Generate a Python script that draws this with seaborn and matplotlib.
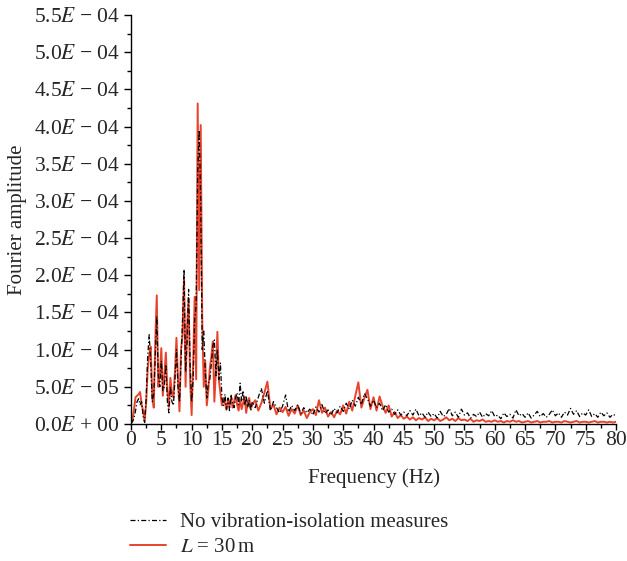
import numpy as np
import pandas as pd
import matplotlib
matplotlib.use("Agg")
import matplotlib.pyplot as plt
from matplotlib.lines import Line2D
from matplotlib.ticker import MultipleLocator, FixedLocator
import seaborn as sns

# ---------------- data (amplitudes in units of 1e-5) ----------------
freq = np.concatenate([np.arange(0, 20.001, 0.25), np.arange(20.5, 80.001, 0.5)])

amp_none_e5 = [
    0.1, 0.3, 0.8, 1.8,
    3.0, 3.4, 2.6, 3.0,
    1.0, 0.2, 3.5, 9.0,
    12.0, 8.5, 3.0, 4.0,
    9.0, 14.5, 6.5, 5.0,
    8.5, 4.5, 5.0, 8.0,
    3.0, 1.5, 5.0, 3.0,
    2.5, 6.0, 10.0, 5.0,
    3.0, 8.5, 14.0, 20.8,
    7.0, 11.0, 18.1, 8.0,
    3.0, 6.0, 14.0, 16.0,
    34.0, 39.5, 30.0, 10.0,
    12.5, 7.0, 3.5, 5.5,
    6.0, 8.0, 10.5, 11.3,
    6.5, 10.0, 6.0, 8.2,
    3.5, 2.5, 4.0, 2.0,
    3.5, 1.8, 4.0, 2.8,
    2.2, 3.5, 4.2, 2.6,
    5.5, 3.0, 4.5, 2.5,
    3.8, 2.2, 3.2, 1.8,
    3.0,
    2.2, 3.6, 4.8, 2.8, 4.5, 1.8, 3.0, 2.2, 1.5, 2.4,
    3.9, 1.6, 2.5, 1.8, 2.6, 1.4, 2.2, 1.5, 2.0, 1.2,
    2.3, 1.6, 2.6, 1.4, 1.9, 1.2, 2.1, 1.5, 2.4, 1.7,
    2.8, 2.0, 3.2, 2.4, 3.6, 2.6, 4.1, 3.4, 2.4, 3.2,
    2.2, 2.8, 1.8, 2.6, 1.6, 2.0, 1.3, 1.9, 1.2, 1.6,
    1.1, 1.8, 1.2, 2.0, 1.1, 1.5, 0.9, 1.6, 1.0, 1.4,
    0.8, 1.7, 1.0, 1.3, 2.1, 1.1, 1.6, 0.9, 2.0, 1.2,
    1.5, 0.8, 1.3, 1.0, 1.6, 0.9, 1.4, 1.1, 1.8, 1.0,
    1.2, 0.7, 1.5, 1.0, 1.3, 0.8, 1.9, 1.1, 1.4, 0.9,
    1.5, 0.8, 1.2, 1.7, 1.0, 1.4, 0.9, 1.3, 1.9, 1.1,
    1.5, 0.9, 1.6, 1.2, 2.1, 1.3, 1.8, 1.0, 1.5, 1.2,
    1.9, 1.0, 1.4, 0.9, 1.6, 1.1, 1.5, 0.9, 1.3, 1.1,
]

amp_l30_e5 = [
    0.2, 0.6, 2.0, 3.6,
    3.8, 4.0, 4.3, 2.6,
    1.8, 0.4, 2.8, 7.4,
    9.2, 10.4, 4.0, 2.2,
    11.0, 17.3, 5.0, 6.5,
    10.2, 3.8, 6.5, 9.6,
    4.5, 2.3, 6.2, 4.0,
    3.6, 7.0, 11.6, 6.0,
    1.7, 10.0, 12.0, 19.8,
    5.0, 13.0, 16.9, 6.0,
    1.2, 8.0, 17.1, 6.0,
    43.1, 18.0, 40.2, 14.0,
    5.0, 8.5, 2.5, 4.5,
    7.5, 9.0, 11.1, 3.0,
    7.0, 12.4, 5.9, 4.1,
    2.5, 3.5, 2.8, 1.9,
    3.2, 2.4, 3.6, 2.2,
    3.0, 3.9, 2.6, 1.8,
    3.3, 2.0, 2.8, 3.6,
    1.5, 2.9, 3.5, 2.0,
    2.6,
    3.2, 1.8, 2.8, 4.2, 5.7, 2.0, 2.6, 1.3, 2.2, 1.6,
    2.3, 1.1, 2.0, 1.4, 2.5, 1.2, 1.8, 0.8, 1.6, 2.0,
    1.2, 3.2, 1.5, 2.2, 1.0, 1.6, 0.9, 1.8, 1.3, 2.5,
    1.4, 3.0, 1.8, 3.8, 5.6, 2.2, 3.5, 4.6, 2.0, 3.6,
    1.8, 3.7, 2.4, 1.5, 2.5, 1.0, 1.6, 0.8, 1.2, 0.7,
    1.0, 0.6, 0.9, 0.5, 0.8, 0.6, 0.9, 0.4, 0.7, 0.5,
    0.8, 0.4, 0.6, 0.9, 0.5, 0.7, 0.4, 0.8, 0.5, 0.6,
    0.4, 0.7, 0.3, 0.5, 0.4, 0.6, 0.3, 0.4, 0.3, 0.5,
    0.3, 0.4, 0.2, 0.4, 0.3, 0.5, 0.3, 0.4, 0.2, 0.3,
    0.4, 0.2, 0.3, 0.4, 0.2, 0.3, 0.3, 0.4, 0.2, 0.3,
    0.3, 0.2, 0.4, 0.3, 0.2, 0.3, 0.4, 0.2, 0.3, 0.3,
    0.2, 0.3, 0.4, 0.2, 0.3, 0.3, 0.2, 0.3, 0.2, 0.3,
]

series_labels = ["No vibration-isolation measures", r"$L$ = 30$\,$m"]
x_ticks = [0, 5, 10, 15, 20, 25, 30, 35, 40, 45, 50, 55, 60, 65, 70, 75, 80]
y_ticks = [0, 5e-5, 1e-4, 1.5e-4, 2e-4, 2.5e-4, 3e-4, 3.5e-4, 4e-4, 4.5e-4, 5e-4, 5.5e-4]
y_tick_labels = ["0.0$E$ + 00", "5.0$E$ − 05", "1.0$E$ − 04", "1.5$E$ − 04",
                 "2.0$E$ − 04", "2.5$E$ − 04", "3.0$E$ − 04", "3.5$E$ − 04",
                 "4.0$E$ − 04", "4.5$E$ − 04", "5.0$E$ − 04", "5.5$E$ − 04"]

# ---------------- plot ----------------
sns.set_style("ticks")
plt.rcParams["font.family"] = ["Liberation Serif", "DejaVu Serif"]
plt.rcParams["mathtext.fontset"] = "stix"

red = "#E8432C"
fs_tick = 15.5
fs = 15

df = pd.DataFrame({"f": freq,
                   "none": np.array(amp_none_e5) * 1e-5,
                   "l30": np.array(amp_l30_e5) * 1e-5})

fig = plt.figure(figsize=(6.27, 5.61), dpi=100)
ax = fig.add_axes([131 / 627, 1 - 424 / 561, (616 - 131) / 627, (424 - 15) / 561])

dash = (0, (4, 1.8, 1, 1.8))
sns.lineplot(data=df, x="f", y="l30", ax=ax, color=red, linewidth=1.4)
sns.lineplot(data=df, x="f", y="none", ax=ax, color="black", linewidth=0.9,
             linestyle=dash)

ax.set_xlim(0, 80)
ax.set_ylim(0, 5.5e-4)
ax.xaxis.set_major_locator(FixedLocator(x_ticks))
ax.xaxis.set_minor_locator(MultipleLocator(2.5))
ax.yaxis.set_major_locator(FixedLocator(y_ticks))
ax.yaxis.set_minor_locator(MultipleLocator(2.5e-5))
ax.set_xticklabels([str(t) for t in x_ticks], fontsize=fs_tick)
ax.set_yticklabels(y_tick_labels, fontsize=fs_tick)
ax.tick_params(axis="y", which="major", length=5, width=1, color="black", pad=3)
ax.tick_params(axis="y", which="minor", length=3, width=1, color="black")
ax.tick_params(axis="x", which="major", length=4, width=1, color="black", pad=1)
ax.tick_params(axis="x", which="minor", length=3, width=1, color="black")
for s in ["top", "right"]:
    ax.spines[s].set_visible(False)
for s in ["left", "bottom"]:
    ax.spines[s].set_linewidth(1)
    ax.spines[s].set_color("black")

ax.set_xlabel("Frequency (Hz)", fontsize=fs, labelpad=13)
ax.set_ylabel("Fourier amplitude", fontsize=fs, labelpad=5)

handles = [Line2D([], [], color="black", linewidth=0.9, linestyle=dash),
           Line2D([], [], color=red, linewidth=1.4)]
fig.legend(handles, series_labels, loc="upper left", bbox_to_anchor=(0.178, 0.12),
           frameon=False, fontsize=fs, handlelength=1.7, handletextpad=0.7,
           labelspacing=0.25)

fig.savefig("out.png", dpi=100)
